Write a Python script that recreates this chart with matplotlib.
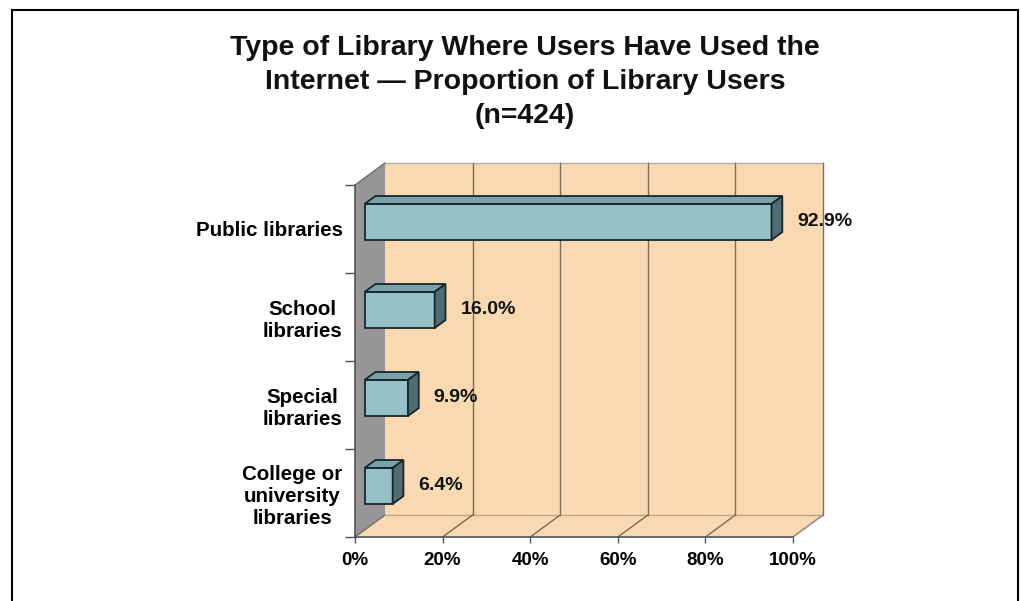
import matplotlib
matplotlib.use('Agg')
import matplotlib.pyplot as plt
from matplotlib.patches import Polygon
from matplotlib.lines import Line2D

# ---------------- data ----------------
categories = ["Public libraries", "School\nlibraries", "Special\nlibraries",
              "College or\nuniversity\nlibraries"]
values = [92.9, 16.0, 9.9, 6.4]
value_labels = ["92.9%", "16.0%", "9.9%", "6.4%"]
xticks = [0, 20, 40, 60, 80, 100]
xtick_labels = ["0%", "20%", "40%", "60%", "80%", "100%"]
title = ("Type of Library Where Users Have Used the\n"
         "Internet \u2014 Proportion of Library Users\n(n=424)")

# ---------------- style ----------------
plt.rcParams['font.family'] = ['Liberation Sans', 'DejaVu Sans']
PEACH = '#F8D9B1'
GREY_WALL = '#969696'
BAR_FRONT = '#97C1C9'
BAR_TOP = '#7BA2AA'
BAR_SIDE = '#4F6D73'
BAR_EDGE = '#16262a'
GRID = '#7d6b55'
AXIS = '#555555'

W, H = 1021, 601
fig = plt.figure(figsize=(W / 100, H / 100), dpi=100)
ax = fig.add_axes([355 / W, 1 - 537 / H, 438 / W, 352 / H])
ax.set_xlim(0, 100)
ax.set_ylim(len(categories), 0)
ax.set_facecolor('none')

n = len(categories)
DX = 30 / 438 * 100      # depth vector (data units)
DY = -22 / 88

# walls and floor
ax.add_patch(Polygon([(DX, DY), (100 + DX, DY), (100 + DX, n + DY), (DX, n + DY)],
                     closed=True, fc=PEACH, ec='none', clip_on=False, zorder=0))
ax.add_patch(Polygon([(0, 0), (DX, DY), (DX, n + DY), (0, n)],
                     closed=True, fc=GREY_WALL, ec='none', clip_on=False, zorder=0))
ax.add_patch(Polygon([(0, n), (100, n), (100 + DX, n + DY), (DX, n + DY)],
                     closed=True, fc=PEACH, ec='none', clip_on=False, zorder=0))

edge_kw = dict(clip_on=False, zorder=1)
ax.plot([DX, 100 + DX], [DY, DY], color='#b9b0a4', lw=1, **edge_kw)
ax.plot([0, DX], [0, DY], color='#6e6e6e', lw=1, **edge_kw)
ax.plot([0, DX], [n, n + DY], color='#6e6e6e', lw=1, **edge_kw)
ax.plot([DX, 100 + DX], [n + DY, n + DY], color='#b9a88f', lw=1, **edge_kw)
for xv in xticks[1:]:
    ax.plot([xv + DX, xv + DX], [DY, n + DY], color=GRID, lw=1, **edge_kw)
    ax.plot([xv, xv + DX], [n, n + DY], color=GRID, lw=1, **edge_kw)
ax.plot([100, 100 + DX], [n, n + DY], color='#9a9a9a', lw=1, **edge_kw)

# bars (3D look)
t0, t1 = 0.32, 0.68
hb = 0.41
x0 = t0 * DX
ddx, ddy = (t1 - t0) * DX, (t1 - t0) * DY
ycs = [i + 0.5 + t0 * DY for i in range(n)]
ax.barh(ycs, values, left=x0, height=hb, color=BAR_FRONT, edgecolor=BAR_EDGE,
        linewidth=1.3, zorder=3, clip_on=False)
for yc, v, lab in zip(ycs, values, value_labels):
    ytop, ybot = yc - hb / 2, yc + hb / 2
    ax.add_patch(Polygon([(x0, ytop), (x0 + v, ytop), (x0 + v + ddx, ytop + ddy),
                          (x0 + ddx, ytop + ddy)], closed=True, fc=BAR_TOP,
                         ec=BAR_EDGE, lw=1.3, zorder=3, clip_on=False))
    ax.add_patch(Polygon([(x0 + v, ytop), (x0 + v + ddx, ytop + ddy),
                          (x0 + v + ddx, ybot + ddy), (x0 + v, ybot)], closed=True,
                         fc=BAR_SIDE, ec=BAR_EDGE, lw=1.3, zorder=3, clip_on=False))
    ax.text(x0 + v + 5.9, yc, lab, ha='left', va='center', fontsize=14,
            fontweight='bold', color='#111111', zorder=4)

# axes
for s in ['top', 'right']:
    ax.spines[s].set_visible(False)
for s in ['left', 'bottom']:
    ax.spines[s].set_color(AXIS)
    ax.spines[s].set_linewidth(1.2)
    ax.spines[s].set_zorder(2)
ax.set_xticks(xticks)
ax.set_xticklabels(xtick_labels, fontsize=13.5, fontweight='bold')
ax.tick_params(axis='x', direction='out', length=4, width=1, color=AXIS, pad=7)
ax.set_yticks(range(n + 1))
ax.set_yticklabels([])
ax.tick_params(axis='y', which='major', direction='out', length=7, width=1, color=AXIS)
ax.set_yticks([i + 0.5 for i in range(n)], minor=True)
ax.set_yticklabels(categories, minor=True, fontsize=14.8, fontweight='bold',
                   multialignment='center', linespacing=1.2)
ax.tick_params(axis='y', which='minor', length=0, pad=9)

# title
fig.text(525 / W, 1 - 82 / H, title, ha='center', va='center', fontsize=20.5,
         fontweight='bold', linespacing=1.4, color='#111111')

# frame
bw = 1.5
fig.add_artist(Line2D([12 / W, 12 / W], [0, 1 - 10 / H], color='black', lw=bw,
                      transform=fig.transFigure))
fig.add_artist(Line2D([1018 / W, 1018 / W], [0, 1 - 10 / H], color='black', lw=bw,
                      transform=fig.transFigure))
fig.add_artist(Line2D([12 / W, 1018 / W], [1 - 10 / H, 1 - 10 / H], color='black',
                      lw=bw, transform=fig.transFigure))

fig.savefig('out.png', dpi=100)
